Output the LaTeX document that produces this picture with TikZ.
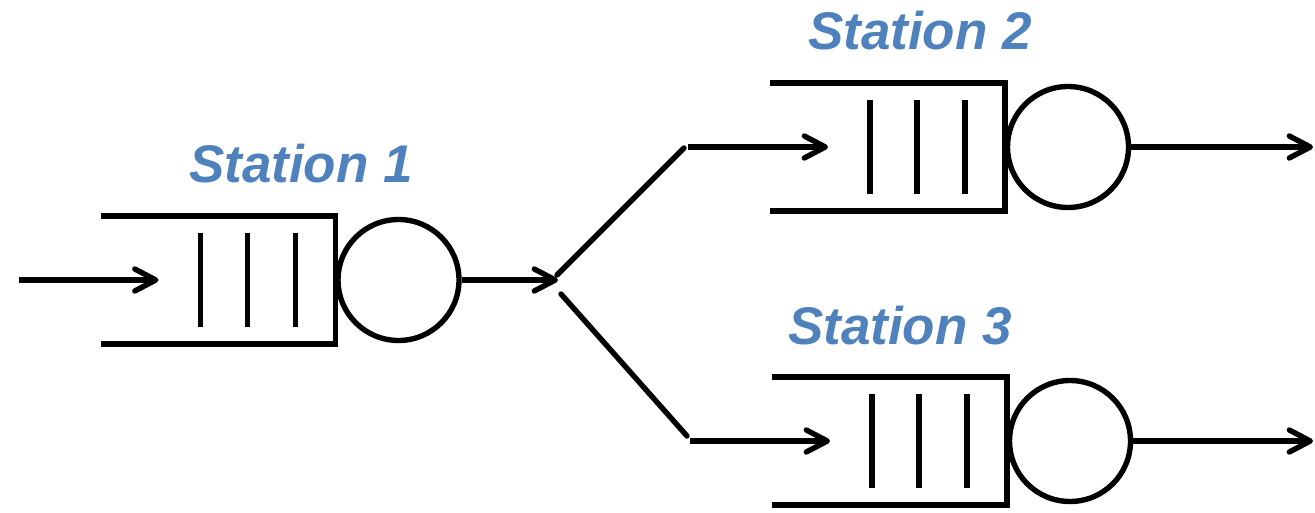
\documentclass[tikz,border=0pt]{standalone}
\usepackage{fontspec}
\setmainfont{Liberation Sans}
\usetikzlibrary{arrows.meta,calc}
\definecolor{lblblue}{RGB}{79,129,189}
\tikzset{
  ln/.style={line width=2.7pt, line cap=round},
  qline/.style={line width=2.7pt},
  arr/.style={line width=2.7pt, -{Straight Barb[length=10.5pt,width=11pt,round]}},
  server/.style={circle, draw, line width=2.7pt, minimum size=60.5pt, inner sep=0pt},
  label/.style={text=lblblue, font=\fontsize{26.5}{30}\selectfont\bfseries\itshape, inner sep=0pt}
}
\newcommand\qstation[3]{% name, cx, cy
  \node[server] (#1) at (#2,#3) {};
  \draw[qline] ($(#1)+(-298,-64)$) -- ($(#1)+(-63,-64)$) -- ($(#1)+(-63,64)$) -- ($(#1)+(-298,64)$);
  \foreach \dx in {-198,-151,-103}
    \draw[qline] ($(#1)+(\dx,-47)$) -- ($(#1)+(\dx,47)$);
  \coordinate (#1in) at ($(#1)+(-380,0)$);
  \coordinate (#1tip) at ($(#1)+(-240,0)$);
}
\begin{document}
\begin{tikzpicture}[x=0.5pt,y=-0.5pt]
\useasboundingbox (0,0) rectangle (1315,513);
\qstation{s1}{398.5}{280}
\qstation{s2}{1068}{147}
\qstation{s3}{1070}{441}
\coordinate (split) at (558,280);
\coordinate (up0) at (557,275);
\coordinate (up1) at (684,148);
\coordinate (lo0) at (561,294);
\coordinate (lo1) at (687,436);
\coordinate (out2) at (1313,147);
\coordinate (out3) at (1313,441);
\draw[arr] (s1in) -- (s1tip);
\draw[arr] (s1.east) -- (split);
\draw[ln] (up0) -- (up1);
\draw[ln] (lo0) -- (lo1);
\draw[arr] (s2in) -- (s2tip);
\draw[arr] (s3in) -- (s3tip);
\draw[arr] (s2.east) -- (out2);
\draw[arr] (s3.east) -- (out3);
\node[label] (l1) at (301,164) {Station 1};
\node[label] (l2) at (920,31) {Station 2};
\node[label] (l3) at (900,326) {Station 3};
\end{tikzpicture}
\end{document}
